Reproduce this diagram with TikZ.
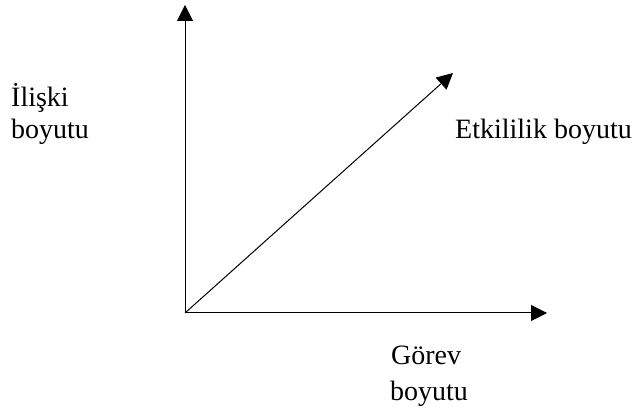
\documentclass[tikz,border=0pt]{standalone}
\usepackage{fontspec}
\setmainfont{Liberation Serif}
\usetikzlibrary{arrows.meta}
\begin{document}
\begin{tikzpicture}[x=1pt,y=-1pt,
  axis/.style={line width=1pt,-{Triangle[length=16pt,width=16pt]}},
  lbl/.style={anchor=base west,inner sep=0pt,font=\fontsize{28}{32}\selectfont}]
\useasboundingbox (0,0) rectangle (641,411);
\coordinate (O) at (185,313);
\coordinate (V) at (185,5);
\coordinate (H) at (547,313);
\coordinate (D) at (453,73);
\draw[axis] (O) -- (V);
\draw[axis] (O) -- (H);
\draw[axis] (O) -- (D);
\node[lbl] (l1) at (11,107) {İlişki};
\node[lbl] (l2) at (11,139) {boyutu};
\node[lbl] (e1) at (455,139) {Etkililik boyutu};
\node[lbl] (g1) at (391,365) {Görev};
\node[lbl] (g2) at (390,401) {boyutu};
\end{tikzpicture}
\end{document}
